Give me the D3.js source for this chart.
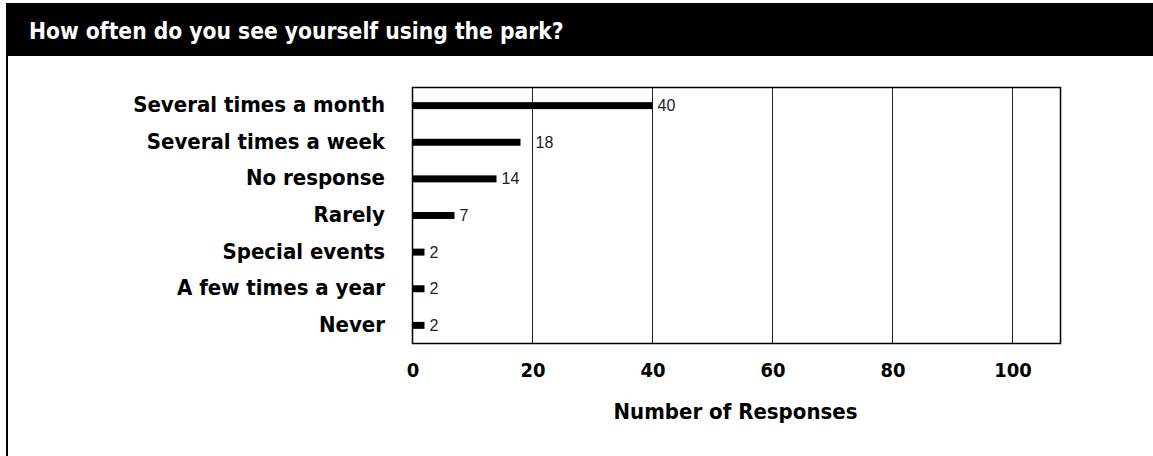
<!DOCTYPE html>
<html>
<head>
<meta charset="utf-8">
<script src="https://cdn.jsdelivr.net/npm/d3@7"></script>
<style>
  html, body { margin: 0; padding: 0; background: #fff; }
  svg { display: block; }
  .f { font-family: "Liberation Sans Narrow", "DejaVu Sans Condensed", "Roboto", sans-serif; }
  .v { font-family: "Liberation Sans", Arial, sans-serif; }
</style>
</head>
<body>
<svg id="chart" width="1153" height="456"></svg>
<script>
const titleText = "How often do you see yourself using the park?";
const categories = ["Several times a month", "Several times a week", "No response", "Rarely", "Special events", "A few times a year", "Never"];
const values = [40, 18, 14, 7, 2, 2, 2];
const xTicks = [0, 20, 40, 60, 80, 100];
const xDomainMax = 108;
const xAxisTitle = "Number of Responses";

const W = 1153, H = 456;
const plot = { left: 412.5, right: 1060.5, top: 87.5, bottom: 343.5 };

const svg = d3.select("#chart");

// Title bar and left frame line
svg.append("rect").attr("x", 6).attr("y", 3).attr("width", W - 6).attr("height", 53).attr("fill", "#000");
svg.append("rect").attr("x", 6).attr("y", 56).attr("width", 2).attr("height", H - 56).attr("fill", "#000");
svg.append("text").attr("class", "f")
  .attr("x", 29).attr("y", 39)
  .attr("fill", "#fff").attr("font-weight", "bold").attr("font-size", 22.6)
  .text(titleText);

const x = d3.scaleLinear().domain([0, xDomainMax]).range([plot.left, plot.right]);
const y = d3.scaleBand().domain(categories).range([plot.top, plot.bottom]).paddingInner(0.81).paddingOuter(0.4);

// Gridlines
svg.append("g").selectAll("line").data(xTicks.filter(t => t > 0)).join("line")
  .attr("x1", d => x(d)).attr("x2", d => x(d))
  .attr("y1", plot.top).attr("y2", plot.bottom)
  .attr("stroke", "#222").attr("stroke-width", 1);

// Frame
svg.append("rect")
  .attr("x", plot.left).attr("y", plot.top)
  .attr("width", plot.right - plot.left).attr("height", plot.bottom - plot.top)
  .attr("fill", "none").attr("stroke", "#000").attr("stroke-width", 1.5);

// Bars
const data = categories.map((c, i) => ({ c, v: values[i] }));
svg.append("g").selectAll("rect").data(data).join("rect")
  .attr("x", x(0)).attr("y", d => y(d.c))
  .attr("width", d => x(d.v) - x(0)).attr("height", y.bandwidth())
  .attr("fill", "#000");

// Value labels (shift past a gridline if it would overlap)
const vl = svg.append("g").selectAll("text").data(data).join("text")
  .attr("class", "v").attr("font-size", 16).attr("fill", "#222")
  .attr("y", d => y(d.c) + y.bandwidth() / 2 + 5.5)
  .text(d => d.v);
vl.each(function(d) {
  const w = this.getComputedTextLength();
  let px = x(d.v) + 5;
  xTicks.forEach(t => {
    const gx = x(t);
    if (t > 0 && gx >= px - 1 && gx <= px + w + 1) px = gx + 3;
  });
  d3.select(this).attr("x", px);
});

// Category labels
svg.append("g").selectAll("text").data(data).join("text")
  .attr("class", "f").attr("font-size", 22).attr("font-weight", "bold").attr("fill", "#000")
  .attr("text-anchor", "end")
  .attr("x", 385)
  .attr("y", d => y(d.c) + y.bandwidth() / 2 + 6.5)
  .text(d => d.c);

// X axis tick labels
const xAxis = d3.axisBottom(x).tickValues(xTicks).tickSize(0).tickPadding(0);
const gx = svg.append("g").attr("transform", `translate(0,${plot.bottom})`).call(xAxis);
gx.select(".domain").remove();
gx.selectAll("text")
  .attr("class", "f").attr("font-size", 20).attr("font-weight", "bold").attr("fill", "#000")
  .attr("dy", null).attr("y", 33);

// Axis title
svg.append("text").attr("class", "f")
  .attr("x", (x(0) + x(100)) / 2 + 23).attr("y", 419)
  .attr("text-anchor", "middle")
  .attr("font-size", 22).attr("font-weight", "bold")
  .text(xAxisTitle);
</script>
</body>
</html>
